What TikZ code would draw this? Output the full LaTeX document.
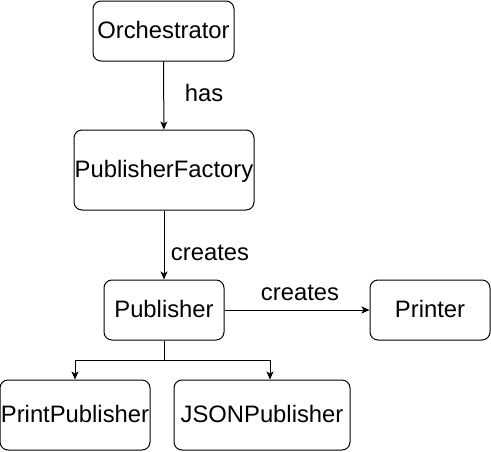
\documentclass[tikz,border=0pt]{standalone}
\usepackage{fontspec}
\setmainfont{Liberation Sans}
\usetikzlibrary{arrows.meta}

\begin{document}
\begin{tikzpicture}[%
        x = 1pt,
        y = -1pt,
        draw = black,
        line width = 1pt,
        box/.style = {draw, rounded corners = 8pt, inner sep = 0pt,
            text height = 19pt, text depth = 4.5pt,
            font = \fontsize{23.8}{28}\selectfont},
        lbl/.style = {inner sep = 0pt, text height = 19pt, text depth = 4.5pt,
            font = \fontsize{23.8}{28}\selectfont},
        >={Stealth[length = 8pt, width = 7pt, inset = 2pt]},
        ]

\useasboundingbox[] (0,0) rectangle (491,451);
% \draw (0,0) grid (491,451);


\node (N1) [box, minimum width = 141pt, minimum height = 60pt] at (163.5,31)
    {Orchestrator};
\node (N2) [box, minimum width = 180pt, minimum height = 80pt] at (164,170)
    {PublisherFactory};


\node (N3) [box, minimum width = 120pt, minimum height = 60pt] at (164,310)
    {Publisher};
\node (N4) [box, minimum width = 120pt, minimum height = 60pt] at (430,310)
    {Printer};


\node (N5) [box, minimum width = 150pt, minimum height = 70pt] at (75,415)
    {PrintPublisher};
\node (N6) [box, minimum width = 176pt, minimum height = 70pt] at (262,415)
    {JSONPublisher};


\draw[->] (N1) -- (N2);
\draw[->] (N2) -- (N3);
\draw[->] (N3) -- (N4);

\coordinate (s) at (164,360);
\draw (N3) -- (s);
\draw[->] (s) -| (N5);
\draw[->] (s) -| ([xshift = 8pt]N6.north);


\node (a) [lbl] at (204,94) {has};
\node (b) [lbl] at (210,253) {creates};
\node (c) [lbl] at (300,293) {creates};


\end{tikzpicture}
\end{document}
